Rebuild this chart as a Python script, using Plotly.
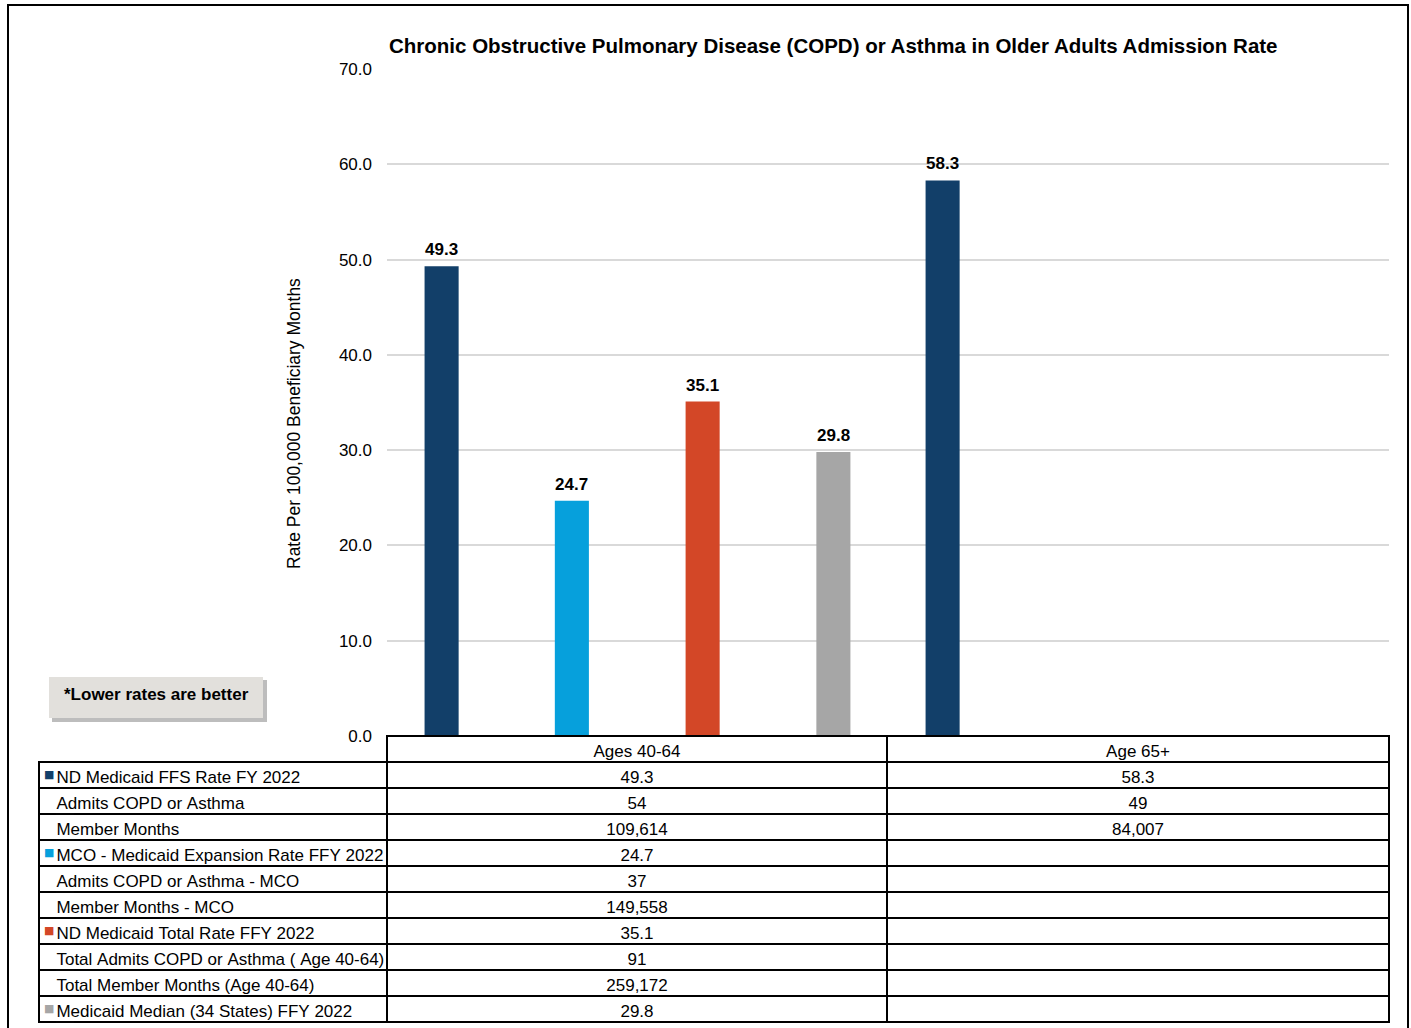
import plotly.graph_objects as go

W, H = 1411, 1028

# ---------------- data ----------------
categories = ["Ages 40-64", "Age 65+"]
series_names = [
    "ND Medicaid FFS Rate FY 2022",
    "MCO - Medicaid Expansion Rate FFY 2022",
    "ND Medicaid Total Rate FFY 2022",
    "Medicaid Median (34 States) FFY 2022",
]
ffs_rate = [49.3, 58.3]
mco_rate = [24.7, None]
total_rate = [35.1, None]
median_rate = [29.8, None]

admits_ffs = [54, 49]
member_months_ffs = [109614, 84007]
admits_mco = [37, None]
member_months_mco = [149558, None]
total_admits = [91, None]
total_member_months = [259172, None]

row_labels = [
    "ND Medicaid FFS Rate FY 2022",
    "Admits COPD or Asthma",
    "Member Months",
    "MCO - Medicaid Expansion Rate FFY 2022",
    "Admits COPD or Asthma - MCO",
    "Member Months - MCO",
    "ND Medicaid Total Rate FFY 2022",
    "Total Admits COPD or Asthma ( Age 40-64)",
    "Total Member Months (Age 40-64)",
    "Medicaid Median (34 States) FFY 2022",
]

title_text = "Chronic Obstructive Pulmonary Disease (COPD) or Asthma in Older Adults Admission Rate"
y_title = "Rate Per 100,000 Beneficiary Months"
note_text = "*Lower rates are better"

# ---------------- styles ----------------
colors = ["#123F69", "#06A0DC", "#D34727", "#A6A6A6"]
FONT = "Liberation Sans, Arial, sans-serif"
NB = "\u00a0"


def px(x):
    return x / W


def py(y):
    return 1 - y / H


plot_left, plot_right = 387, 1389
plot_top, plot_bottom = 69, 736

fig = go.Figure()

series_values = [ffs_rate, mco_rate, total_rate, median_rate]
bar_width = 0.068
bar_centers = [-0.391, -0.131, 0.130, 0.391]
label_annotations = []
for name, vals, col, c in zip(series_names, series_values, colors, bar_centers):
    fig.add_trace(go.Bar(
        x=categories, y=vals, name=name,
        marker=dict(color=col, line=dict(width=0)),
        width=bar_width, offset=c - bar_width / 2,
        showlegend=False, hoverinfo="y",
    ))
    for k, v in enumerate(vals):
        if v is None:
            continue
        label_annotations.append(dict(
            text=f"<b>{v:.1f}</b>", x=k + c, y=v, xref="x", yref="y",
            showarrow=False, xanchor="center", yanchor="bottom", yshift=5,
            font=dict(family=FONT, size=17, color="#000000"),
        ))

# ---------------- table ----------------
def fmt(v, kind):
    if v is None:
        return ""
    if kind == "rate":
        return f"{v:.1f}"
    return f"{v:,}"


rows = [
    (ffs_rate, "rate"), (admits_ffs, "int"), (member_months_ffs, "int"),
    (mco_rate, "rate"), (admits_mco, "int"), (member_months_mco, "int"),
    (total_rate, "rate"), (total_admits, "int"), (total_member_months, "int"),
    (median_rate, "rate"),
]
col_a = [fmt(vals[0], kind) for vals, kind in rows]
col_b = [fmt(vals[1], kind) for vals, kind in rows]
label_cells = [NB * 2 + lab.replace(" ", NB) for lab in row_labels]

fig.add_trace(go.Table(
    domain=dict(x=[px(39), px(1389)], y=[0, py(736)]),
    columnwidth=[348, 500, 502],
    header=dict(
        values=["", categories[0].replace(" ", NB), categories[1].replace(" ", NB)],
        height=26,
        align=["left", "center", "center"],
        font=dict(family=FONT, size=17, color="#000000"),
        fill=dict(color=["rgba(0,0,0,0)", "white", "white"]),
        line=dict(color=["rgba(0,0,0,0)", "#000000", "#000000"], width=2),
    ),
    cells=dict(
        values=[label_cells, col_a, col_b],
        height=26,
        align=["left", "center", "center"],
        font=dict(family=FONT, size=17, color="#000000"),
        fill=dict(color="white"),
        line=dict(color="#000000", width=2),
    ),
))

# colored series keys in the label column
series_row_color = {0: colors[0], 3: colors[1], 6: colors[2], 9: colors[3]}
key_colors = [series_row_color.get(i, "rgba(0,0,0,0)") for i in range(len(row_labels))]
key_text = ["■" if i in series_row_color else "" for i in range(len(row_labels))]
fig.add_trace(go.Table(
    domain=dict(x=[px(36), px(56)], y=[0, py(736)]),
    header=dict(values=[""], height=26, fill=dict(color="rgba(0,0,0,0)"),
                line=dict(color="rgba(0,0,0,0)", width=0)),
    cells=dict(
        values=[key_text],
        height=26, align="left",
        font=dict(family="DejaVu Sans", size=11, color=[key_colors]),
        fill=dict(color="rgba(0,0,0,0)"),
        line=dict(color="rgba(0,0,0,0)", width=0),
    ),
))

fig.update_layout(
    width=W, height=H,
    margin=dict(l=0, r=0, t=0, b=0, autoexpand=False),
    paper_bgcolor="white", plot_bgcolor="white",
    barmode="overlay",
    font=dict(family=FONT, size=17, color="#000000"),
    xaxis=dict(
        domain=[px(plot_left), px(plot_right)],
        type="category", range=[-0.5, 1.5], automargin=False,
        showticklabels=False, showgrid=False, zeroline=False, showline=False,
        ticks="",
    ),
    yaxis=dict(
        domain=[py(plot_bottom), py(plot_top)],
        range=[0, 70], dtick=10, tickformat=".1f", automargin=False,
        showgrid=True, gridcolor="#D9D9D9", gridwidth=2,
        zeroline=False, showline=False, ticks="",
        tickfont=dict(family=FONT, size=17, color="#000000"),
        ticklabelstandoff=14,
    ),
    annotations=label_annotations + [
        dict(text=f"<b>{title_text}</b>", x=px(833), y=py(46), xref="paper", yref="paper",
             showarrow=False, xanchor="center", yanchor="middle",
             font=dict(family=FONT, size=20.5, color="#000000")),
        dict(text=y_title, x=px(294), y=py(424), xref="paper", yref="paper",
             showarrow=False, textangle=-90, xanchor="center", yanchor="middle",
             font=dict(family=FONT, size=17.5, color="#000000")),
        dict(text=f"<b>{note_text}</b>", x=px(62), y=py(694), xref="paper", yref="paper",
             showarrow=False, xanchor="left", yanchor="middle",
             font=dict(family=FONT, size=17, color="#000000")),
    ],
    shapes=[
        dict(type="rect", xref="paper", yref="paper", x0=px(8), x1=px(1408), y0=-0.01, y1=py(5),
             line=dict(color="#000000", width=2), fillcolor="rgba(0,0,0,0)", layer="above"),
        dict(type="rect", xref="paper", yref="paper", x0=px(52), x1=px(267), y0=py(722), y1=py(680),
             line=dict(width=0), fillcolor="#BDBDBD", layer="below"),
        dict(type="rect", xref="paper", yref="paper", x0=px(49), x1=px(263), y0=py(718), y1=py(677),
             line=dict(width=0), fillcolor="#E2E0DC", layer="below"),
    ],
)

fig.write_html(
    "out.html",
    config={"displayModeBar": False},
    post_script="document.body.style.margin='0px';document.body.style.overflow='hidden';",
)
